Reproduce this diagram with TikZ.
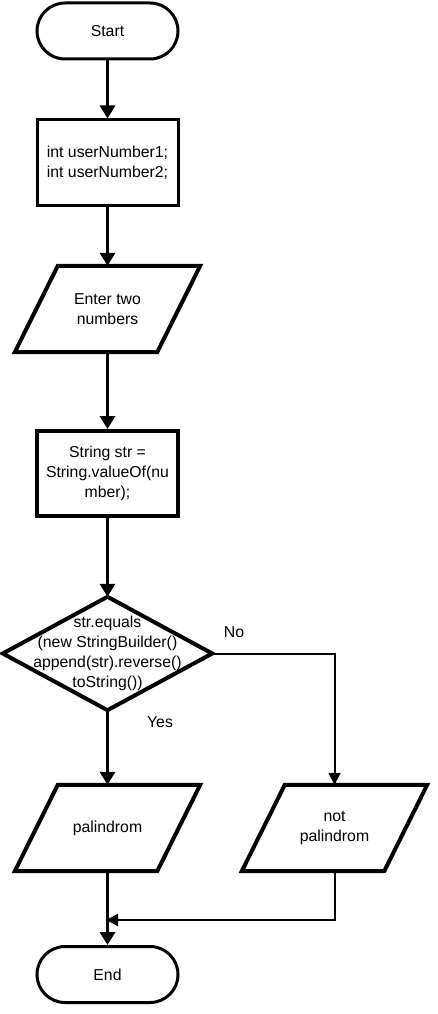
\documentclass[tikz,border=0pt]{standalone}
\usepackage{fontspec}
\setmainfont{Liberation Sans}
\usetikzlibrary{arrows.meta,calc}
\begin{document}
\begin{tikzpicture}[x=1pt,y=-1pt,
  every node/.style={font=\fontsize{15.8}{20}\selectfont, align=center, inner sep=0pt},
  term/.style={draw, line width=3pt, rounded corners=28pt, minimum width=141pt, minimum height=56pt},
  procbox/.style={draw, minimum width=141pt, minimum height=85pt},
  iobox/.style={minimum width=142pt, minimum height=86pt},
  decbox/.style={minimum width=209pt, minimum height=113pt},
  thickarrow/.style={line width=3.3pt, -{Triangle[width=15pt,length=13pt]}},
  thinarrow/.style={line width=2pt, -{Triangle[width=12pt,length=12pt]}},
  shapeline/.style={line width=4pt, line join=miter}
]
\useasboundingbox (0,0) rectangle (437,1014);
\node[term] (start) at (107.5,31) {Start};
\node[procbox, line width=3pt] (init) at (107.5,162.5) {int userNumber1;\\int userNumber2;};
\node[iobox] (input) at (107.5,309) {Enter two\\numbers};
\node[procbox, line width=4pt] (conv) at (107.5,473.5) {String str =\\String.valueOf(nu\\mber);};
\node[decbox] (dec) at (107.5,653.5) {str.equals\\(new StringBuilder()\\append(str).reverse()\\toString())};
\node[iobox] (pal) at (107.5,828) {palindrom};
\node[iobox] (npal) at (334.5,828) {not\\palindrom};
\node[term] (end) at (107.5,974.5) {End};
\node (no) at (234,632) {No};
\node (yes) at (160,722) {Yes};
\coordinate (merge) at (107.5,920);

\foreach \n in {input,pal,npal}{
  \draw[shapeline] ([xshift=21.5pt]\n.north west) -- ([xshift=21.5pt]\n.north east)
    -- ([xshift=-21.5pt]\n.south east) -- ([xshift=-21.5pt]\n.south west) -- cycle;
}
\draw[shapeline] (dec.north) -- (dec.east) -- (dec.south) -- (dec.west) -- cycle;

\draw[thickarrow] (start.south) -- (init.north);
\draw[thickarrow] (init.south) -- (input.north);
\draw[thickarrow] (input.south) -- (conv.north);
\draw[thickarrow] (conv.south) -- (dec.north);
\draw[thickarrow] (dec.south) -- (pal.north);
\draw[thickarrow] (pal.south) -- (end.north);
\draw[thinarrow] (dec.east) -| (npal.north);
\draw[thinarrow, shorten >=-1.5pt] (npal.south) |- (merge);
\end{tikzpicture}
\end{document}
